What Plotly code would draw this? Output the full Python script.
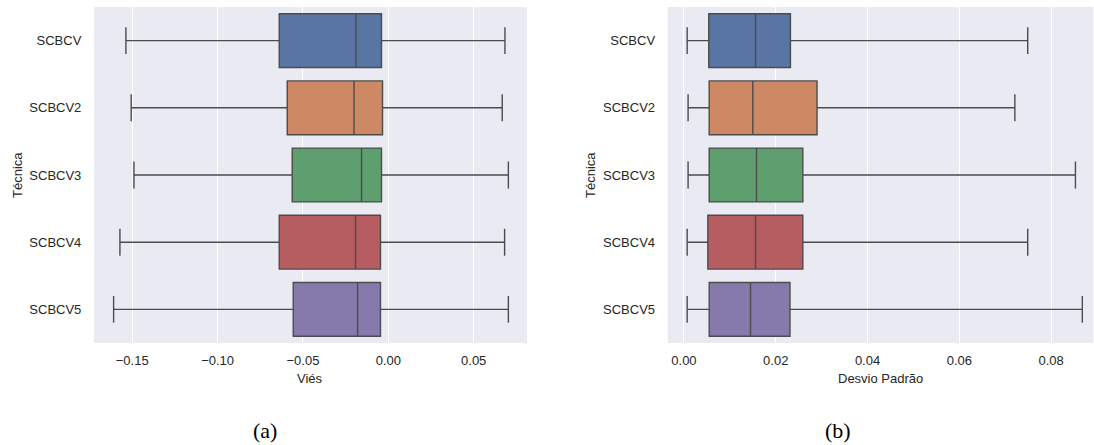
import plotly.graph_objects as go

labels = ["SCBCV", "SCBCV2", "SCBCV3", "SCBCV4", "SCBCV5"]
colors = ["#5875a4", "#cc8963", "#5f9e6e", "#b55d60", "#857aab"]

vies_low = [-0.1537, -0.1506, -0.1490, -0.1572, -0.1609]
vies_q1 = [-0.0639, -0.0592, -0.0563, -0.0639, -0.0557]
vies_med = [-0.0190, -0.0201, -0.0157, -0.0192, -0.0180]
vies_q3 = [-0.0040, -0.0034, -0.0040, -0.0046, -0.0046]
vies_high = [0.0683, 0.0667, 0.0703, 0.0681, 0.0703]

dp_low = [0.0007, 0.0009, 0.0009, 0.0007, 0.0007]
dp_q1 = [0.0054, 0.0055, 0.0055, 0.0052, 0.0055]
dp_med = [0.0156, 0.0150, 0.0158, 0.0156, 0.0145]
dp_q3 = [0.0232, 0.0290, 0.0259, 0.0259, 0.0231]
dp_high = [0.0749, 0.0721, 0.0853, 0.0749, 0.0868]

vies_ticks = [-0.15, -0.10, -0.05, 0.00, 0.05]
dp_ticks = [0.00, 0.02, 0.04, 0.06, 0.08]

LINE = "#4c4c4c"
TXT = "#262626"
FONT = "Liberation Sans, Arial, sans-serif"
FS = 13

fig = go.Figure()

def add_boxes(low, q1, med, q3, high, xa, ya):
    for i, lab in enumerate(labels):
        fig.add_trace(go.Box(
            y=[lab], lowerfence=[low[i]], q1=[q1[i]], median=[med[i]],
            q3=[q3[i]], upperfence=[high[i]], orientation="h",
            fillcolor=colors[i], line=dict(color=LINE, width=1.4),
            width=0.8, whiskerwidth=0.5, boxpoints=False,
            showlegend=False, hoverinfo="skip", xaxis=xa, yaxis=ya,
        ))

add_boxes(vies_low, vies_q1, vies_med, vies_q3, vies_high, "x", "y")
add_boxes(dp_low, dp_q1, dp_med, dp_q3, dp_high, "x2", "y2")

xcommon = dict(showgrid=True, gridcolor="white", gridwidth=1, zeroline=False,
               showline=False, ticks="outside", ticklen=5, tickcolor="rgba(0,0,0,0)",
               tickfont=dict(family=FONT, size=FS, color=TXT), tickformat=".2f")
ycommon = dict(showgrid=False, zeroline=False, showline=False, ticks="outside",
               ticklen=9, tickcolor="rgba(0,0,0,0)", type="category",
               categoryorder="array", categoryarray=labels, range=[4.5, -0.5],
               tickfont=dict(family=FONT, size=FS, color=TXT))

fig.update_layout(
    width=1094, height=445, margin=dict(l=0, r=0, t=0, b=0),
    paper_bgcolor="white", plot_bgcolor="#eaeaf2", boxmode="overlay",
    xaxis=dict(xcommon, domain=[0.0859, 0.4817], range=[-0.1724, 0.0812],
               tickvals=vies_ticks, anchor="y"),
    yaxis=dict(ycommon, domain=[0.2292, 0.9843], anchor="x"),
    xaxis2=dict(xcommon, domain=[0.6103, 0.9994], range=[-0.00355, 0.0892],
                tickvals=dp_ticks, anchor="y2"),
    yaxis2=dict(ycommon, domain=[0.2292, 0.9843], anchor="x2"),
)

ann = [
    dict(text="Viés", x=(0.0859 + 0.4817) / 2, y=1 - 378 / 445),
    dict(text="Desvio Padrão", x=(0.6103 + 0.9994) / 2, y=1 - 378 / 445),
    dict(text="Técnica", x=17 / 1094, y=1 - 175 / 445, textangle=-90),
    dict(text="Técnica", x=590 / 1094, y=1 - 175 / 445, textangle=-90),
]
for a in ann:
    fig.add_annotation(xref="paper", yref="paper", showarrow=False,
                       xanchor="center", yanchor="middle",
                       font=dict(family=FONT, size=FS, color=TXT), **a)

for t, x in [("(a)", 265 / 1094), ("(b)", 838 / 1094)]:
    fig.add_annotation(text=t, xref="paper", yref="paper", x=x, y=1 - 430 / 445,
                       showarrow=False, xanchor="center", yanchor="middle",
                       font=dict(family="Liberation Serif, Times New Roman, serif",
                                 size=22, color="black"))

fig.write_html("out.html")
